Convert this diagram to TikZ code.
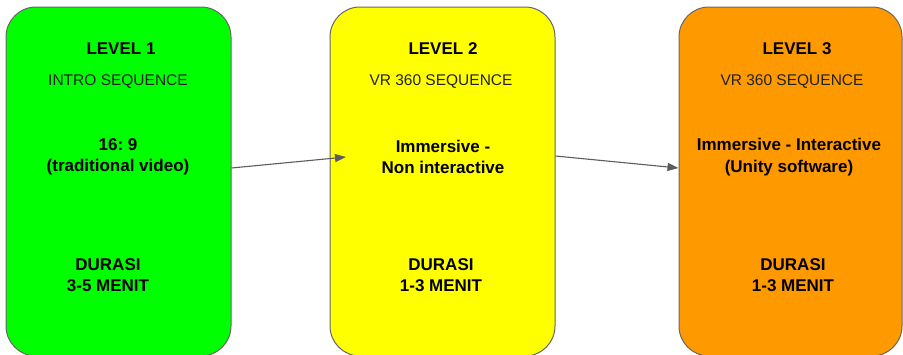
\documentclass[tikz,border=0pt]{standalone}
\usepackage{fontspec}
\setmainfont{Liberation Sans}
\frenchspacing
\usetikzlibrary{arrows.meta}
\definecolor{lvlgreen}{HTML}{00FF00}
\definecolor{lvlyellow}{HTML}{FFFF00}
\definecolor{lvlorange}{HTML}{FF9900}
\definecolor{edgegray}{HTML}{666666}
\definecolor{txtgray}{HTML}{222222}
\tikzset{
  levelbox/.style={draw=edgegray, line width=1pt, rounded corners=30pt,
    minimum height=349pt, inner sep=0pt},
  headtxt/.style={font=\fontsize{17}{21.5}\selectfont\bfseries, align=center, inner sep=0pt},
  subtxt/.style={font=\fontsize{15.5}{19}\selectfont, text=txtgray, align=center, inner sep=0pt},
  flow/.style={draw=edgegray!90!black, line width=1.1pt,
    -{Triangle[length=11pt,width=8pt]}}
}
\begin{document}
\begin{tikzpicture}[x=1pt,y=-1pt]
\useasboundingbox (0,0) rectangle (903,354);
\fill[white] (0,0) rectangle (903,354);

% the three levels
\node[levelbox, fill=lvlgreen,  minimum width=225pt] (lv1) at (118.5,181.5) {};
\node[levelbox, fill=lvlyellow, minimum width=225pt] (lv2) at (442.5,181.5) {};
\node[levelbox, fill=lvlorange, minimum width=223pt] (lv3) at (790.5,181.5) {};

% level 1
\node[headtxt] (t1a) at (121,49) {LEVEL 1};
\node[subtxt]  (t1b) at (118,82) {INTRO SEQUENCE};
\node[headtxt] (t1c) at (118,157) {16: 9\\(traditional video)};
\node[headtxt] (t1d) at (108,275) {DURASI\\3-5 MENIT};

% level 2
\node[headtxt] (t2a) at (443,49) {LEVEL 2};
\node[subtxt]  (t2b) at (441,82) {VR 360 SEQUENCE};
\node[headtxt] (t2c) at (443,157) {Immersive -\\Non interactive};
\node[headtxt] (t2d) at (441,275) {DURASI\\1-3 MENIT};

% level 3
\node[headtxt] (t3a) at (797,49) {LEVEL 3};
\node[subtxt]  (t3b) at (792,82) {VR 360 SEQUENCE};
\node[headtxt] (t3c) at (789,157) {Immersive - Interactive\\(Unity software)};
\node[headtxt] (t3d) at (793,275) {DURASI\\1-3 MENIT};

% transitions between levels
\coordinate (a1s) at (lv1.east |- 0,168);
\coordinate (a1e) at (346,157);
\coordinate (a2s) at (lv2.east |- 0,156);
\coordinate (a2e) at (lv3.west |- 0,168);
\draw[flow] (a1s) -- (a1e);
\draw[flow] (a2s) -- (a2e);
\end{tikzpicture}
\end{document}
